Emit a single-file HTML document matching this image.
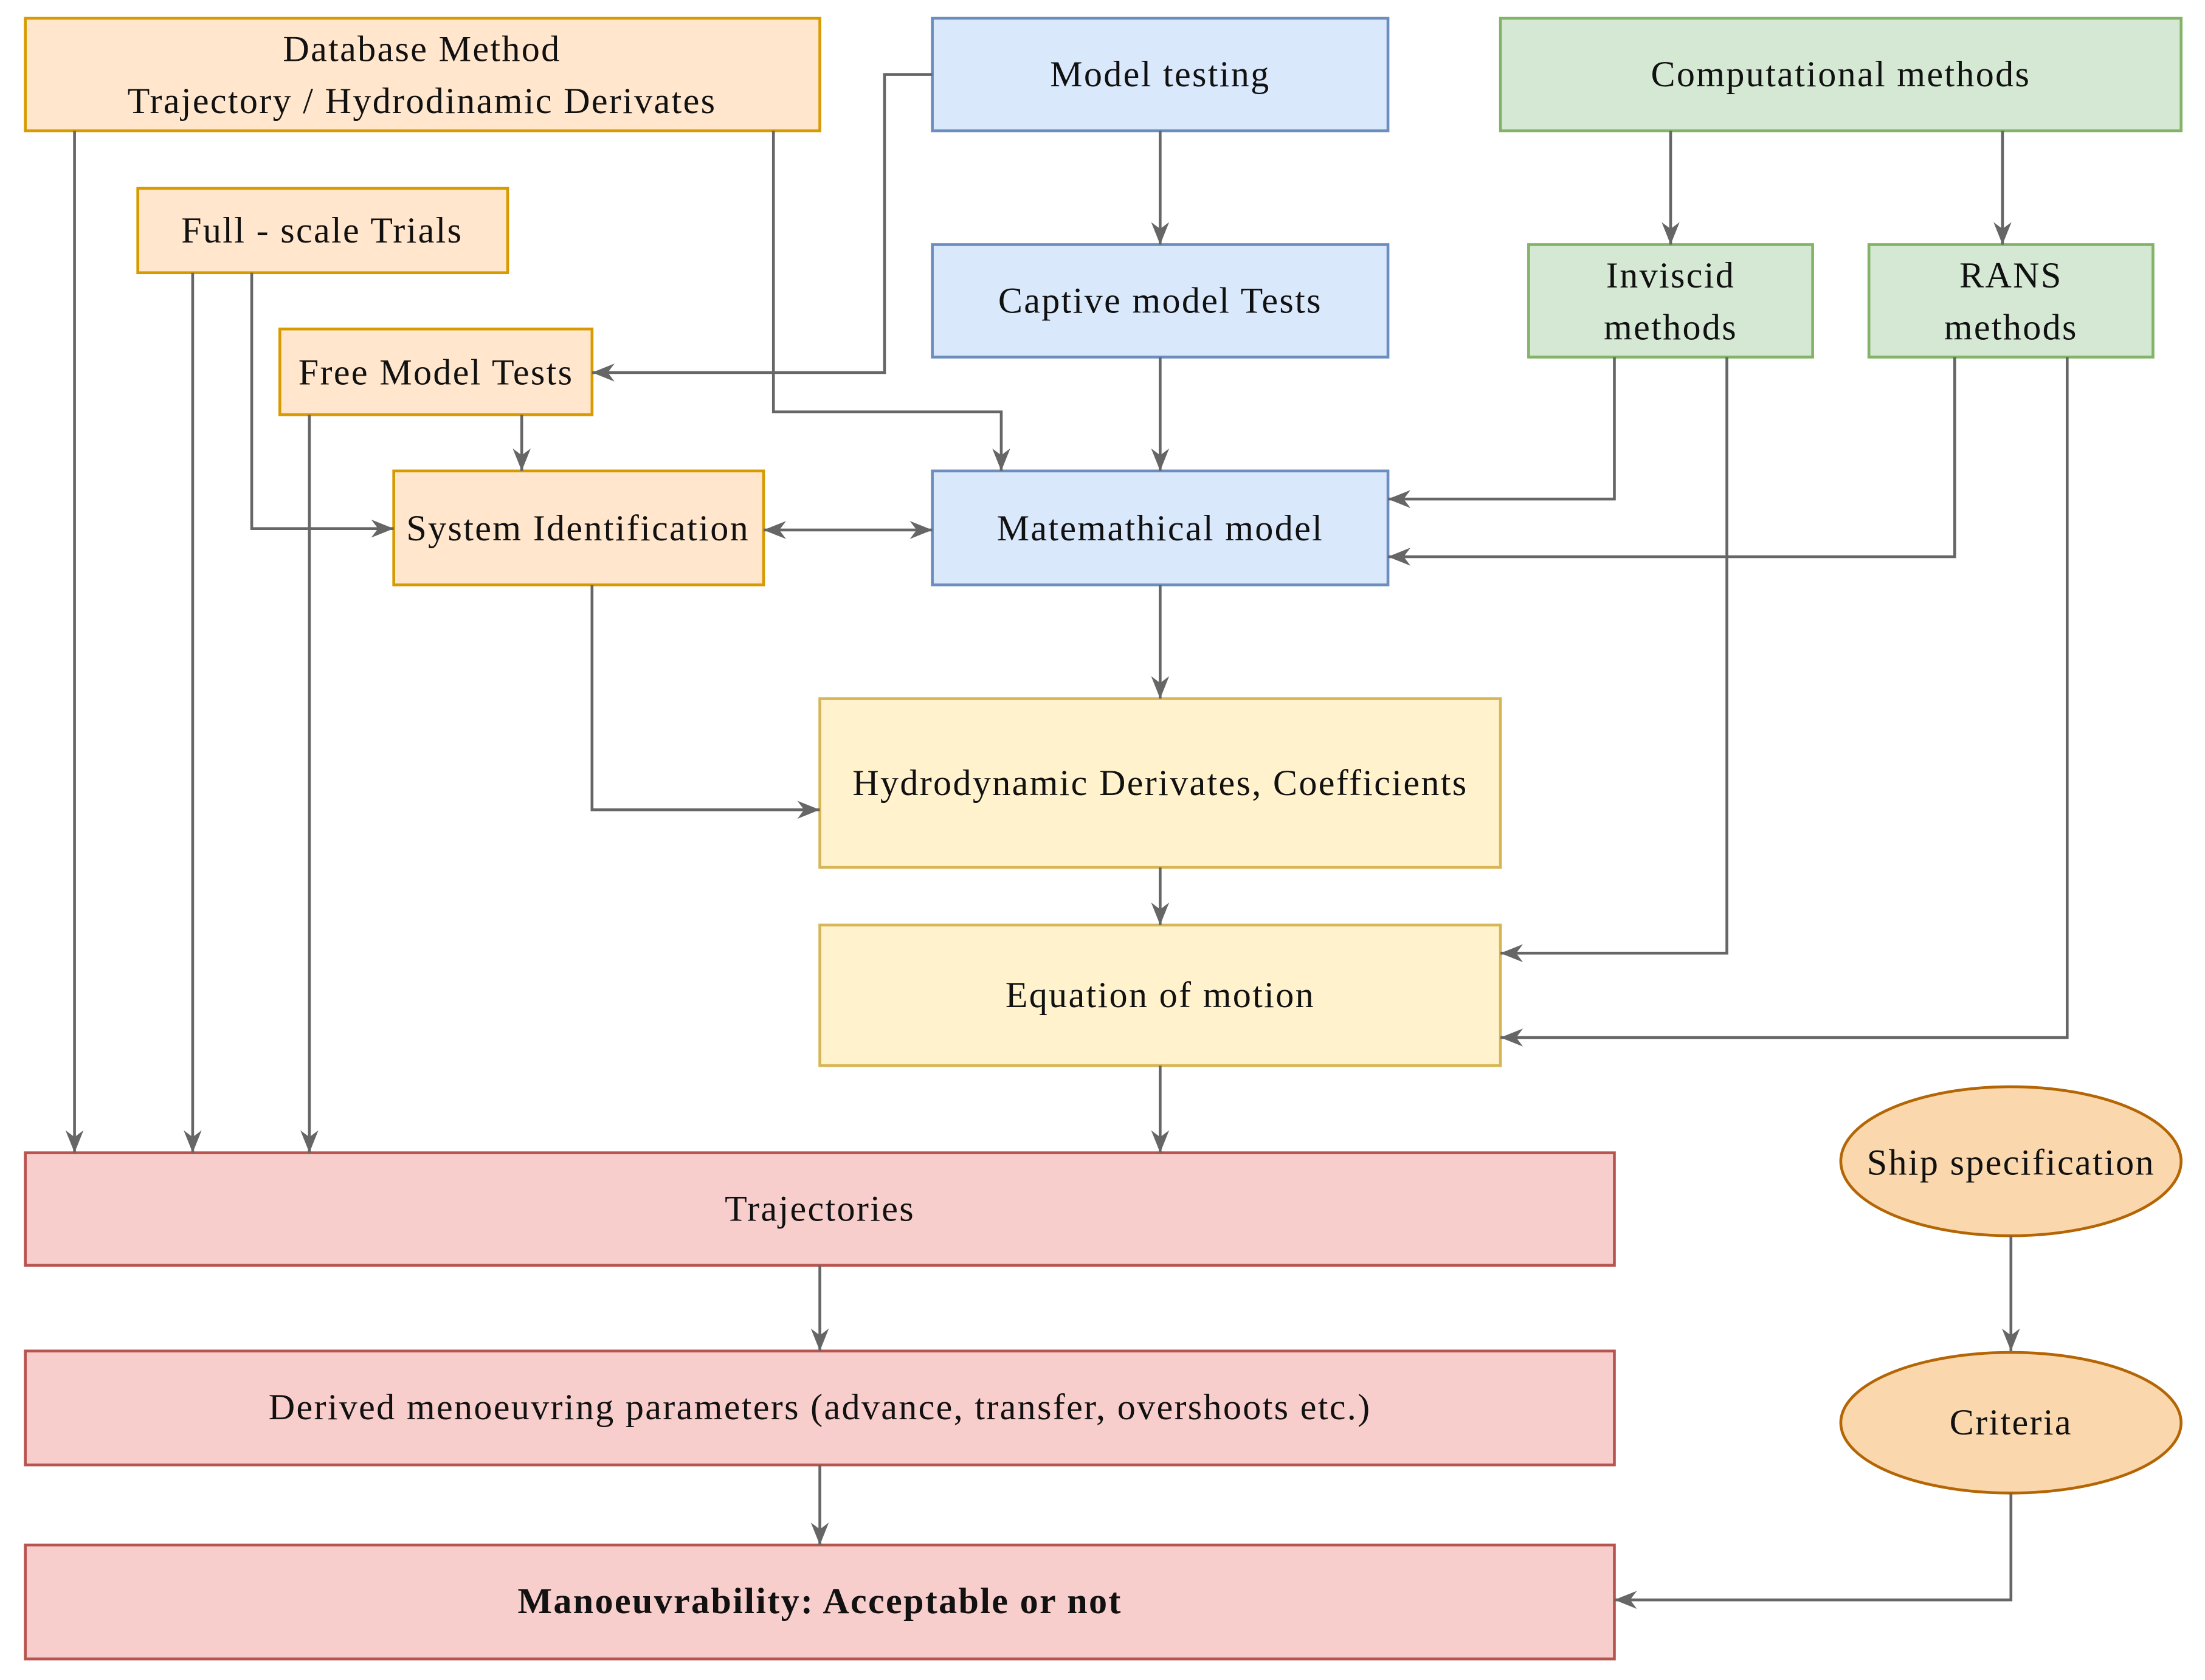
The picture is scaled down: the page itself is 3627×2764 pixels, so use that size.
<!DOCTYPE html>
<html><head><meta charset="utf-8"><style>html,body{margin:0;padding:0;background:#fff}svg{display:block}</style></head>
<body>
<svg width="3627" height="2764" viewBox="0 0 1568 1195" preserveAspectRatio="none" xmlns="http://www.w3.org/2000/svg">
<defs>
<marker id="a" viewBox="0 0 10 10" refX="10" refY="5" markerWidth="16" markerHeight="16" markerUnits="userSpaceOnUse" orient="auto-start-reverse">
<path d="M0,1 L10,5 L0,9 L3,5 Z" fill="#666"/></marker>
<style>
.o{fill:#ffe6cc;stroke:#d79b00;stroke-width:2}
.b{fill:#dae8fc;stroke:#6c8ebf;stroke-width:2}
.g{fill:#d5e8d4;stroke:#82b366;stroke-width:2}
.y{fill:#fff2cc;stroke:#d6b656;stroke-width:2}
.r{fill:#f8cecc;stroke:#b85450;stroke-width:2}
.e{fill:#fad7ac;stroke:#b46504;stroke-width:2}
.l{fill:none;stroke:#666;stroke-width:2;marker-end:url(#a)}
text{font-family:"Liberation Serif",serif;font-size:26px;letter-spacing:1px;fill:#111;text-anchor:middle;dominant-baseline:central}
</style>
</defs>
<rect class="o" x="18" y="13" width="565" height="80"/>
<rect class="o" x="98" y="134" width="263" height="60"/>
<rect class="o" x="199" y="234" width="222" height="61"/>
<rect class="o" x="280" y="335" width="263" height="81"/>
<rect class="b" x="663" y="13" width="324" height="80"/>
<rect class="b" x="663" y="174" width="324" height="80"/>
<rect class="b" x="663" y="335" width="324" height="81"/>
<rect class="g" x="1067" y="13" width="484" height="80"/>
<rect class="g" x="1087" y="174" width="202" height="80"/>
<rect class="g" x="1329" y="174" width="202" height="80"/>
<rect class="y" x="583" y="497" width="484" height="120"/>
<rect class="y" x="583" y="658" width="484" height="100"/>
<rect class="r" x="18" y="820" width="1130" height="80"/>
<rect class="r" x="18" y="961" width="1130" height="81"/>
<rect class="r" x="18" y="1099" width="1130" height="81"/>
<ellipse class="e" cx="1430" cy="826" rx="121" ry="53"/>
<ellipse class="e" cx="1430" cy="1012" rx="121" ry="50"/>

<path class="l" d="M53,93 V820"/>
<path class="l" d="M137,194 V820"/>
<path class="l" d="M220,295 V820"/>
<path class="l" d="M179,194 V376 H280"/>
<path class="l" d="M371,295 V335"/>
<path class="l" d="M550,93 V293 H712 V335"/>
<path class="l" d="M663,53 H629 V265 H421"/>
<path class="l" d="M825,93 V174"/>
<path class="l" d="M825,254 V335"/>
<path class="l" d="M543,377 H663" style="marker-start:url(#a)"/>
<path class="l" d="M421,416 V576 H583"/>
<path class="l" d="M825,416 V497"/>
<path class="l" d="M825,617 V658"/>
<path class="l" d="M825,758 V820"/>
<path class="l" d="M1188,93 V174"/>
<path class="l" d="M1424,93 V174"/>
<path class="l" d="M1148,254 V355 H987"/>
<path class="l" d="M1228,254 V678 H1067"/>
<path class="l" d="M1390,254 V396 H987"/>
<path class="l" d="M1470,254 V738 H1067"/>
<path class="l" d="M583,900 V961"/>
<path class="l" d="M583,1042 V1099"/>
<path class="l" d="M1430,879 V961"/>
<path class="l" d="M1430,1062 V1138 H1148"/>

<text x="300" y="35">Database Method</text>
<text x="300" y="72">Trajectory / Hydrodinamic Derivates</text>
<text x="229" y="164">Full - scale Trials</text>
<text x="310" y="265">Free Model Tests</text>
<text x="411" y="376">System Identification</text>
<text x="825" y="53">Model testing</text>
<text x="825" y="214">Captive model Tests</text>
<text x="825" y="376">Matemathical model</text>
<text x="1309" y="53">Computational methods</text>
<text x="1188" y="196">Inviscid</text>
<text x="1188" y="233">methods</text>
<text x="1430" y="196">RANS</text>
<text x="1430" y="233">methods</text>
<text x="825" y="557">Hydrodynamic Derivates, Coefficients</text>
<text x="825" y="708">Equation of  motion</text>
<text x="583" y="860">Trajectories</text>
<text x="583" y="1001">Derived menoeuvring parameters (advance, transfer, overshoots etc.)</text>
<text x="583" y="1139" style="font-weight:bold">Manoeuvrability: Acceptable or not</text>
<text x="1430" y="827">Ship specification</text>
<text x="1430" y="1012">Criteria</text>
</svg>
</body></html>
